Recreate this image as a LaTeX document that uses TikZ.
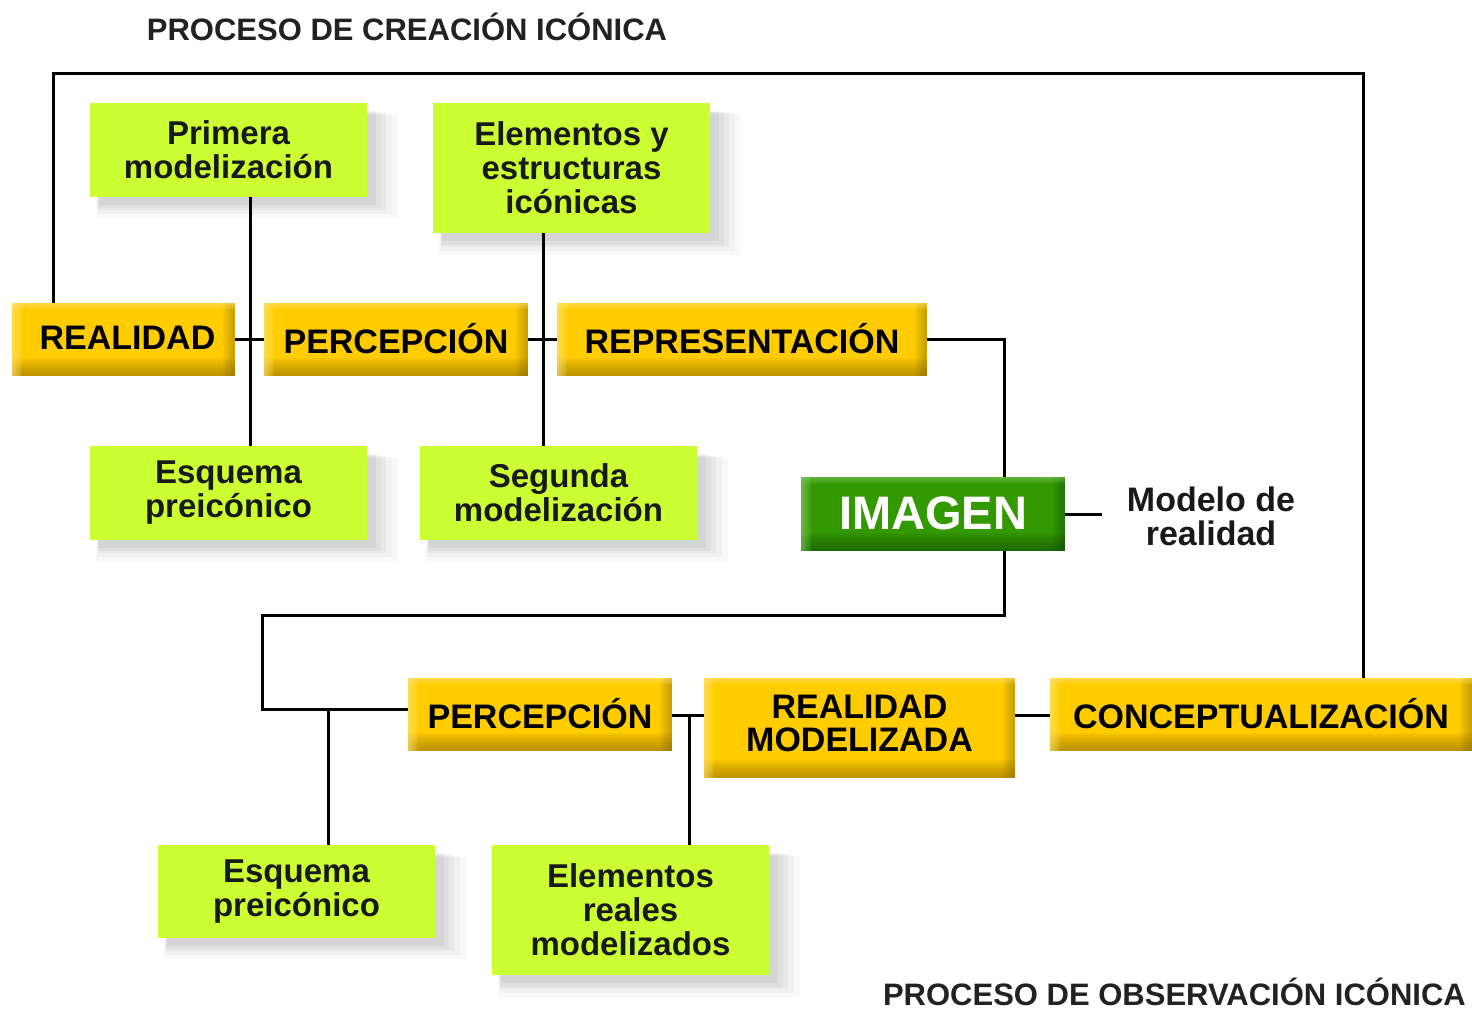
\documentclass[tikz,border=0pt]{standalone}
\usepackage{fontspec}
\setmainfont{Liberation Sans}
\usetikzlibrary{shadows,calc}
\definecolor{ybase}{HTML}{FFCC00}
\definecolor{ydark}{HTML}{806000}
\definecolor{ylight}{HTML}{FFE680}
\definecolor{lgreen}{HTML}{CCFF33}
\definecolor{gbase}{HTML}{339900}
\definecolor{gdark}{HTML}{0F4000}
\definecolor{glight}{HTML}{8CCC70}
\definecolor{titlec}{HTML}{222222}
\begin{document}
\begin{tikzpicture}[x=1pt,y=1pt,
  conn/.style={line width=3pt,black},
  softshadow/.style={
    general shadow={fill=black, opacity=0.025, shadow xshift=17pt, shadow yshift=-15pt, shadow scale=1.09},
    general shadow={fill=black, opacity=0.03, shadow xshift=15pt, shadow yshift=-13pt, shadow scale=1.065},
    general shadow={fill=black, opacity=0.035, shadow xshift=13pt, shadow yshift=-11pt, shadow scale=1.04},
    general shadow={fill=black, opacity=0.04, shadow xshift=11pt, shadow yshift=-10pt, shadow scale=1.02},
    general shadow={fill=black, opacity=0.045, shadow xshift=9pt, shadow yshift=-8pt, shadow scale=1.0}},
  greenbox/.style={softshadow, fill=lgreen, align=center, inner sep=0pt,
    font=\bfseries\fontsize{33}{34}\selectfont, text=black!90},
  bevel/.style n args={3}{fill=#1, path picture={
    \foreach \h in {2,4,...,18}
      \fill[#2, opacity=0.07] (path picture bounding box.south west) rectangle ([yshift=\h pt]path picture bounding box.south east);
    \foreach \w in {2,4,...,12}
      \fill[#2, opacity=0.08] ([xshift=-\w pt]path picture bounding box.north east) rectangle (path picture bounding box.south east);
    \foreach \w in {2,4,...,10}
      \fill[#3, opacity=0.16] (path picture bounding box.north west) rectangle ([xshift=\w pt]path picture bounding box.south west);
    \foreach \h in {2,4,6}
      \fill[#3, opacity=0.2] (path picture bounding box.north west) rectangle ([yshift=-\h pt]path picture bounding box.north east);
  }},
  yellowbox/.style={bevel={ybase}{ydark}{ylight}, align=center, inner sep=0pt,
    font=\bfseries\fontsize{34}{34}\selectfont, text=black},
  titletext/.style={font=\bfseries\fontsize{31}{32}\selectfont, text=titlec, inner sep=0pt}
]
\useasboundingbox (0,0) rectangle (1472,-1013);

% titles
\node[titletext] (t1) at (407,-27) {PROCESO DE CREACIÓN ICÓNICA};
\node[titletext, anchor=base east] (t2) at (1466,-1005) {PROCESO DE OBSERVACIÓN ICÓNICA};

% green boxes (top)
\node[greenbox, minimum width=277pt, minimum height=94pt] (prim) at (228.5,-150) {Primera\\modelización};
\node[greenbox, minimum width=277pt, minimum height=130pt] (elem) at (571.5,-168) {Elementos y\\estructuras\\icónicas};
\node[greenbox, minimum width=277pt, minimum height=94pt] (esq1) at (228.5,-493) {Esquema\\preicónico};
\node[greenbox, minimum width=277pt, minimum height=94pt] (seg) at (558.5,-493) {Segunda\\modelización};
% green boxes (bottom)
\node[greenbox, minimum width=277pt, minimum height=93pt] (esq2) at (296.5,-891.5) {Esquema\\preicónico};
\node[greenbox, minimum width=277pt, minimum height=130pt] (elemreal) at (630.5,-910) {Elementos\\reales\\modelizados};

% yellow boxes
\node[yellowbox, minimum width=223pt, minimum height=73pt] (real) at (123.5,-339.5) {\raisebox{3pt}{\hspace*{8pt}REALIDAD}};
\node[yellowbox, minimum width=264pt, minimum height=73pt] (perc1) at (396,-339.5) {\raisebox{3pt}{PERCEPCIÓN}};
\node[yellowbox, minimum width=370pt, minimum height=73pt] (repr) at (742,-339.5) {\raisebox{3pt}{REPRESENTACIÓN}};
\node[yellowbox, minimum width=264pt, minimum height=73pt] (perc2) at (540,-714.5) {\raisebox{3pt}{PERCEPCIÓN}};
\node[yellowbox, minimum width=311pt, minimum height=100pt] (realmod) at (859.5,-728) {\raisebox{3pt}{\begin{tabular}{@{}c@{}}REALIDAD\\[-1pt]MODELIZADA\end{tabular}}};
\node[yellowbox, minimum width=422pt, minimum height=73pt] (concept) at (1261,-714.5) {\raisebox{3pt}{CONCEPTUALIZACIÓN}};

% IMAGEN
\node[bevel={gbase}{gdark}{glight}, minimum width=264pt, minimum height=74pt, inner sep=0pt,
  font=\bfseries\fontsize{47}{48}\selectfont, text=white] (imagen) at (933,-514) {\raisebox{2pt}{IMAGEN}};
\node[font=\bfseries\fontsize{34}{34}\selectfont, align=center, inner sep=0pt, text=black!90] (modelo) at (1211,-516) {Modelo de\\realidad};

% coordinates
\coordinate (tl) at (53,-73);
\coordinate (tr) at (1363,-73);
\coordinate (va) at (250,0);
\coordinate (vb) at (543,0);
\coordinate (vc) at (1004,0);
\coordinate (jn) at (262,-615);
\coordinate (vd) at (328,-709);
\coordinate (ve) at (689,-715);
\coordinate (mend) at (1102,-514);

% connectors
\draw[conn] (tl |- real.north) -- (tl) -- (tr) -- (tr |- concept.north);
\draw[conn] (va |- prim.south) -- (va |- esq1.north);
\draw[conn] (vb |- elem.south) -- (vb |- seg.north);
\draw[conn] (real.east) -- (perc1.west);
\draw[conn] (perc1.east) -- (repr.west);
\draw[conn] (repr.east) -| (vc |- imagen.north);
\draw[conn] (vc |- imagen.south) |- (jn) |- (vd -| perc2.west);
\draw[conn] (vd) -- (vd |- esq2.north);
\draw[conn] (imagen.east) -- (mend);
\draw[conn] (ve -| perc2.east) -- (ve -| realmod.west);
\draw[conn] (ve) -- (ve |- elemreal.north);
\draw[conn] (ve -| realmod.east) -- (ve -| concept.west);
\end{tikzpicture}
\end{document}
